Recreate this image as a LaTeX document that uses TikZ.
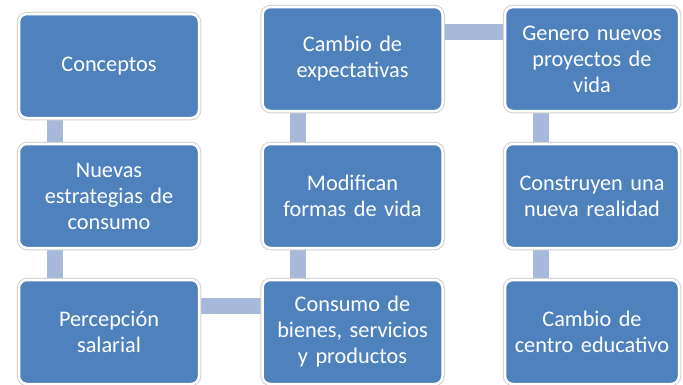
\documentclass[tikz,border=0pt]{standalone}
\usepackage{fontspec}
\setmainfont{Carlito}
\usetikzlibrary{backgrounds}
\definecolor{boxblue}{HTML}{4F81BD}
\definecolor{connblue}{HTML}{A7BADB}
\tikzset{
  box/.style={rectangle, rounded corners=8pt, fill=boxblue, draw=white, line width=2.5pt,
    preaction={draw=black!18, line width=4.5pt},
    minimum width=180pt, minimum height=104pt, text width=172pt, align=center,
    text=white, font=\fontsize{22.3}{26}\selectfont, inner sep=0pt},
  conn/.style={draw=connblue, line width=16pt},
}
\begin{document}
\begin{tikzpicture}[x=1pt,y=-1pt]
\useasboundingbox (0,0) rectangle (683,384);
% column 1
\node[box] (c1) at (109,66) {Conceptos};
\node[box] (n1) at (109,196) {Nuevas\\estrategias de\\consumo};
\node[box] (p1) at (109,332) {Percepción\\salarial};
% column 2
\node[box] (c2) at (352.5,59) {Cambio de\\expectativas};
\node[box] (m2) at (352.5,196) {Modifican\\formas de vida};
\node[box] (s2) at (352.5,332) {Consumo de\\bienes, servicios\\y productos};
% column 3
\node[box, minimum width=174pt] (g3) at (592,59) {Genero nuevos\\proyectos de\\vida};
\node[box, minimum width=174pt] (r3) at (592,196) {Construyen una\\nueva realidad};
\node[box, minimum width=174pt] (e3) at (592,332) {Cambio de\\centro educativo};
\begin{scope}[on background layer]
  \draw[conn] ([xshift=37pt]c1.south west) -- ([xshift=37pt]n1.north west);
  \draw[conn] ([xshift=37pt]n1.south west) -- ([xshift=37pt]p1.north west);
  \draw[conn] ([yshift=-27pt]p1.north east) -- ([yshift=-27pt]s2.north west);
  \draw[conn] ([xshift=37pt]s2.north west) -- ([xshift=37pt]m2.south west);
  \draw[conn] ([xshift=37pt]m2.north west) -- ([xshift=37pt]c2.south west);
  \draw[conn] ([yshift=-26pt]c2.north east) -- ([yshift=-26pt]g3.north west);
  \draw[conn] ([xshift=37pt]g3.south west) -- ([xshift=37pt]r3.north west);
  \draw[conn] ([xshift=37pt]r3.south west) -- ([xshift=37pt]e3.north west);
\end{scope}
\end{tikzpicture}
\end{document}
